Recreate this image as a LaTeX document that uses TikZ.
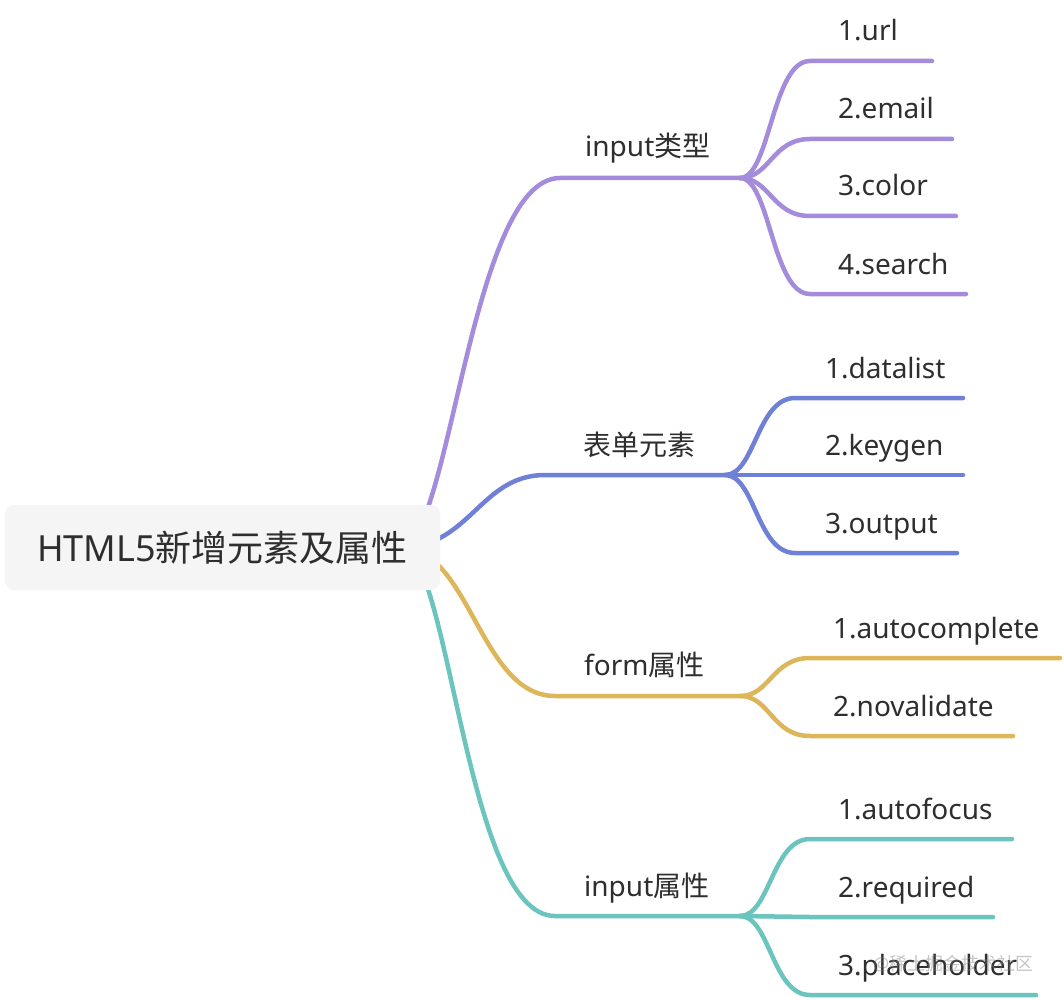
\documentclass[tikz,border=0pt]{standalone}
\usepackage{fontspec}
\setmainfont{Noto Sans}
\newfontfamily\cjk{Noto Sans CJK SC}
\usetikzlibrary{backgrounds}
\definecolor{cpur}{HTML}{A48BDB}
\definecolor{cblu}{HTML}{6F80D7}
\definecolor{cyel}{HTML}{DDB65A}
\definecolor{ctea}{HTML}{6BC4BE}
\definecolor{ctxt}{HTML}{2E2E2E}
\definecolor{croot}{HTML}{F5F5F5}
\begin{document}
\begin{tikzpicture}[x=1pt,y=-1pt,
  rootbox/.style={rectangle,rounded corners=9pt,fill=croot,minimum width=435pt,minimum height=85pt,inner sep=0pt,text=ctxt,font=\fontsize{36}{40}\selectfont},
  lbl/.style={anchor=base west,inner sep=0pt,text=ctxt,font=\fontsize{28}{32}\selectfont},
  wire/.style={line width=4.5pt,line cap=round},
  wmark/.style={anchor=base west,inner sep=0pt,text=gray,opacity=0.45,font=\fontsize{18}{20}\selectfont}]
\useasboundingbox (0,0) rectangle (1064,1000);
\node[rootbox] (root) at (222.5,547.5) {HTML5{\cjk 新增元素及属性}};
% level 1 labels
\node[lbl] (t1) at (585,157) {input{\cjk 类型}};
\node[lbl] (t2) at (583,455) {{\cjk 表单元素}};
\node[lbl] (t3) at (584,675) {form{\cjk 属性}};
\node[lbl] (t4) at (584,896) {input{\cjk 属性}};
% children labels
\node[lbl] (n11) at (838,41) {1.url};
\node[lbl] (n12) at (838,119) {2.email};
\node[lbl] (n13) at (838,196) {3.color};
\node[lbl] (n14) at (838,274) {4.search};
\node[lbl] (n21) at (825,378) {1.datalist};
\node[lbl] (n22) at (825,455) {2.keygen};
\node[lbl] (n23) at (825,533) {3.output};
\node[lbl] (n31) at (833,638) {1.autocomplete};
\node[lbl] (n32) at (833,716) {2.novalidate};
\node[lbl] (n41) at (838,819) {1.autofocus};
\node[lbl] (n42) at (838,897) {2.required};
\node[lbl] (n43) at (838,975) {3.placeholder};
% watermark
\node[wmark] (wm) at (873,970) {@{\cjk 稀土掘金技术社区}};
% coordinates
\coordinate (a1) at (560,178); \coordinate (j1) at (740,178);
\coordinate (a2) at (545,475); \coordinate (j2) at (725,475);
\coordinate (a3) at (555,696); \coordinate (j3) at (740,696);
\coordinate (a4) at (555,916); \coordinate (j4) at (740,916);
\coordinate (s11) at (810,61);  \coordinate (e11) at (932,61);
\coordinate (s12) at (810,139); \coordinate (e12) at (952,139);
\coordinate (s13) at (810,216); \coordinate (e13) at (956,216);
\coordinate (s14) at (810,294); \coordinate (e14) at (966,294);
\coordinate (s21) at (795,398); \coordinate (e21) at (963,398);
\coordinate (s22) at (795,475); \coordinate (e22) at (963,475);
\coordinate (s23) at (795,553); \coordinate (e23) at (957,553);
\coordinate (s31) at (810,658); \coordinate (e31) at (1060,658);
\coordinate (s32) at (810,736); \coordinate (e32) at (1013,736);
\coordinate (s41) at (810,839); \coordinate (e41) at (1012,839);
\coordinate (s42) at (810,917); \coordinate (e42) at (993,917);
\coordinate (s43) at (810,995); \coordinate (e43) at (1036,995);
\begin{scope}[on background layer]
\fill[white] (0,0) rectangle (1064,1000);
% root to level 1
\draw[wire,cpur] ([xshift=-40pt]root.east) .. controls +(50,0) and +(-90,0) .. (a1) -- (j1);
\draw[wire,cblu] ([xshift=-40pt]root.east) .. controls +(70,0) and +(-65,0) .. (a2) -- (j2);
\draw[wire,cyel] ([xshift=-40pt]root.east) .. controls +(70,0) and +(-75,0) .. (a3) -- (j3);
\draw[wire,ctea] ([xshift=-40pt]root.east) .. controls +(50,0) and +(-90,0) .. (a4) -- (j4);
% purple children
\draw[wire,cpur] (j1) .. controls +(30,0) and +(-38,0) .. (s11) -- (e11);
\draw[wire,cpur] (j1) .. controls +(30,0) and +(-38,0) .. (s12) -- (e12);
\draw[wire,cpur] (j1) .. controls +(30,0) and +(-38,0) .. (s13) -- (e13);
\draw[wire,cpur] (j1) .. controls +(30,0) and +(-38,0) .. (s14) -- (e14);
% blue children
\draw[wire,cblu] (j2) .. controls +(30,0) and +(-38,0) .. (s21) -- (e21);
\draw[wire,cblu] (j2) -- (s22) -- (e22);
\draw[wire,cblu] (j2) .. controls +(30,0) and +(-38,0) .. (s23) -- (e23);
% yellow children
\draw[wire,cyel] (j3) .. controls +(30,0) and +(-38,0) .. (s31) -- (e31);
\draw[wire,cyel] (j3) .. controls +(30,0) and +(-38,0) .. (s32) -- (e32);
% teal children
\draw[wire,ctea] (j4) .. controls +(30,0) and +(-38,0) .. (s41) -- (e41);
\draw[wire,ctea] (j4) -- (s42) -- (e42);
\draw[wire,ctea] (j4) .. controls +(30,0) and +(-38,0) .. (s43) -- (e43);
\end{scope}
\end{tikzpicture}
\end{document}
